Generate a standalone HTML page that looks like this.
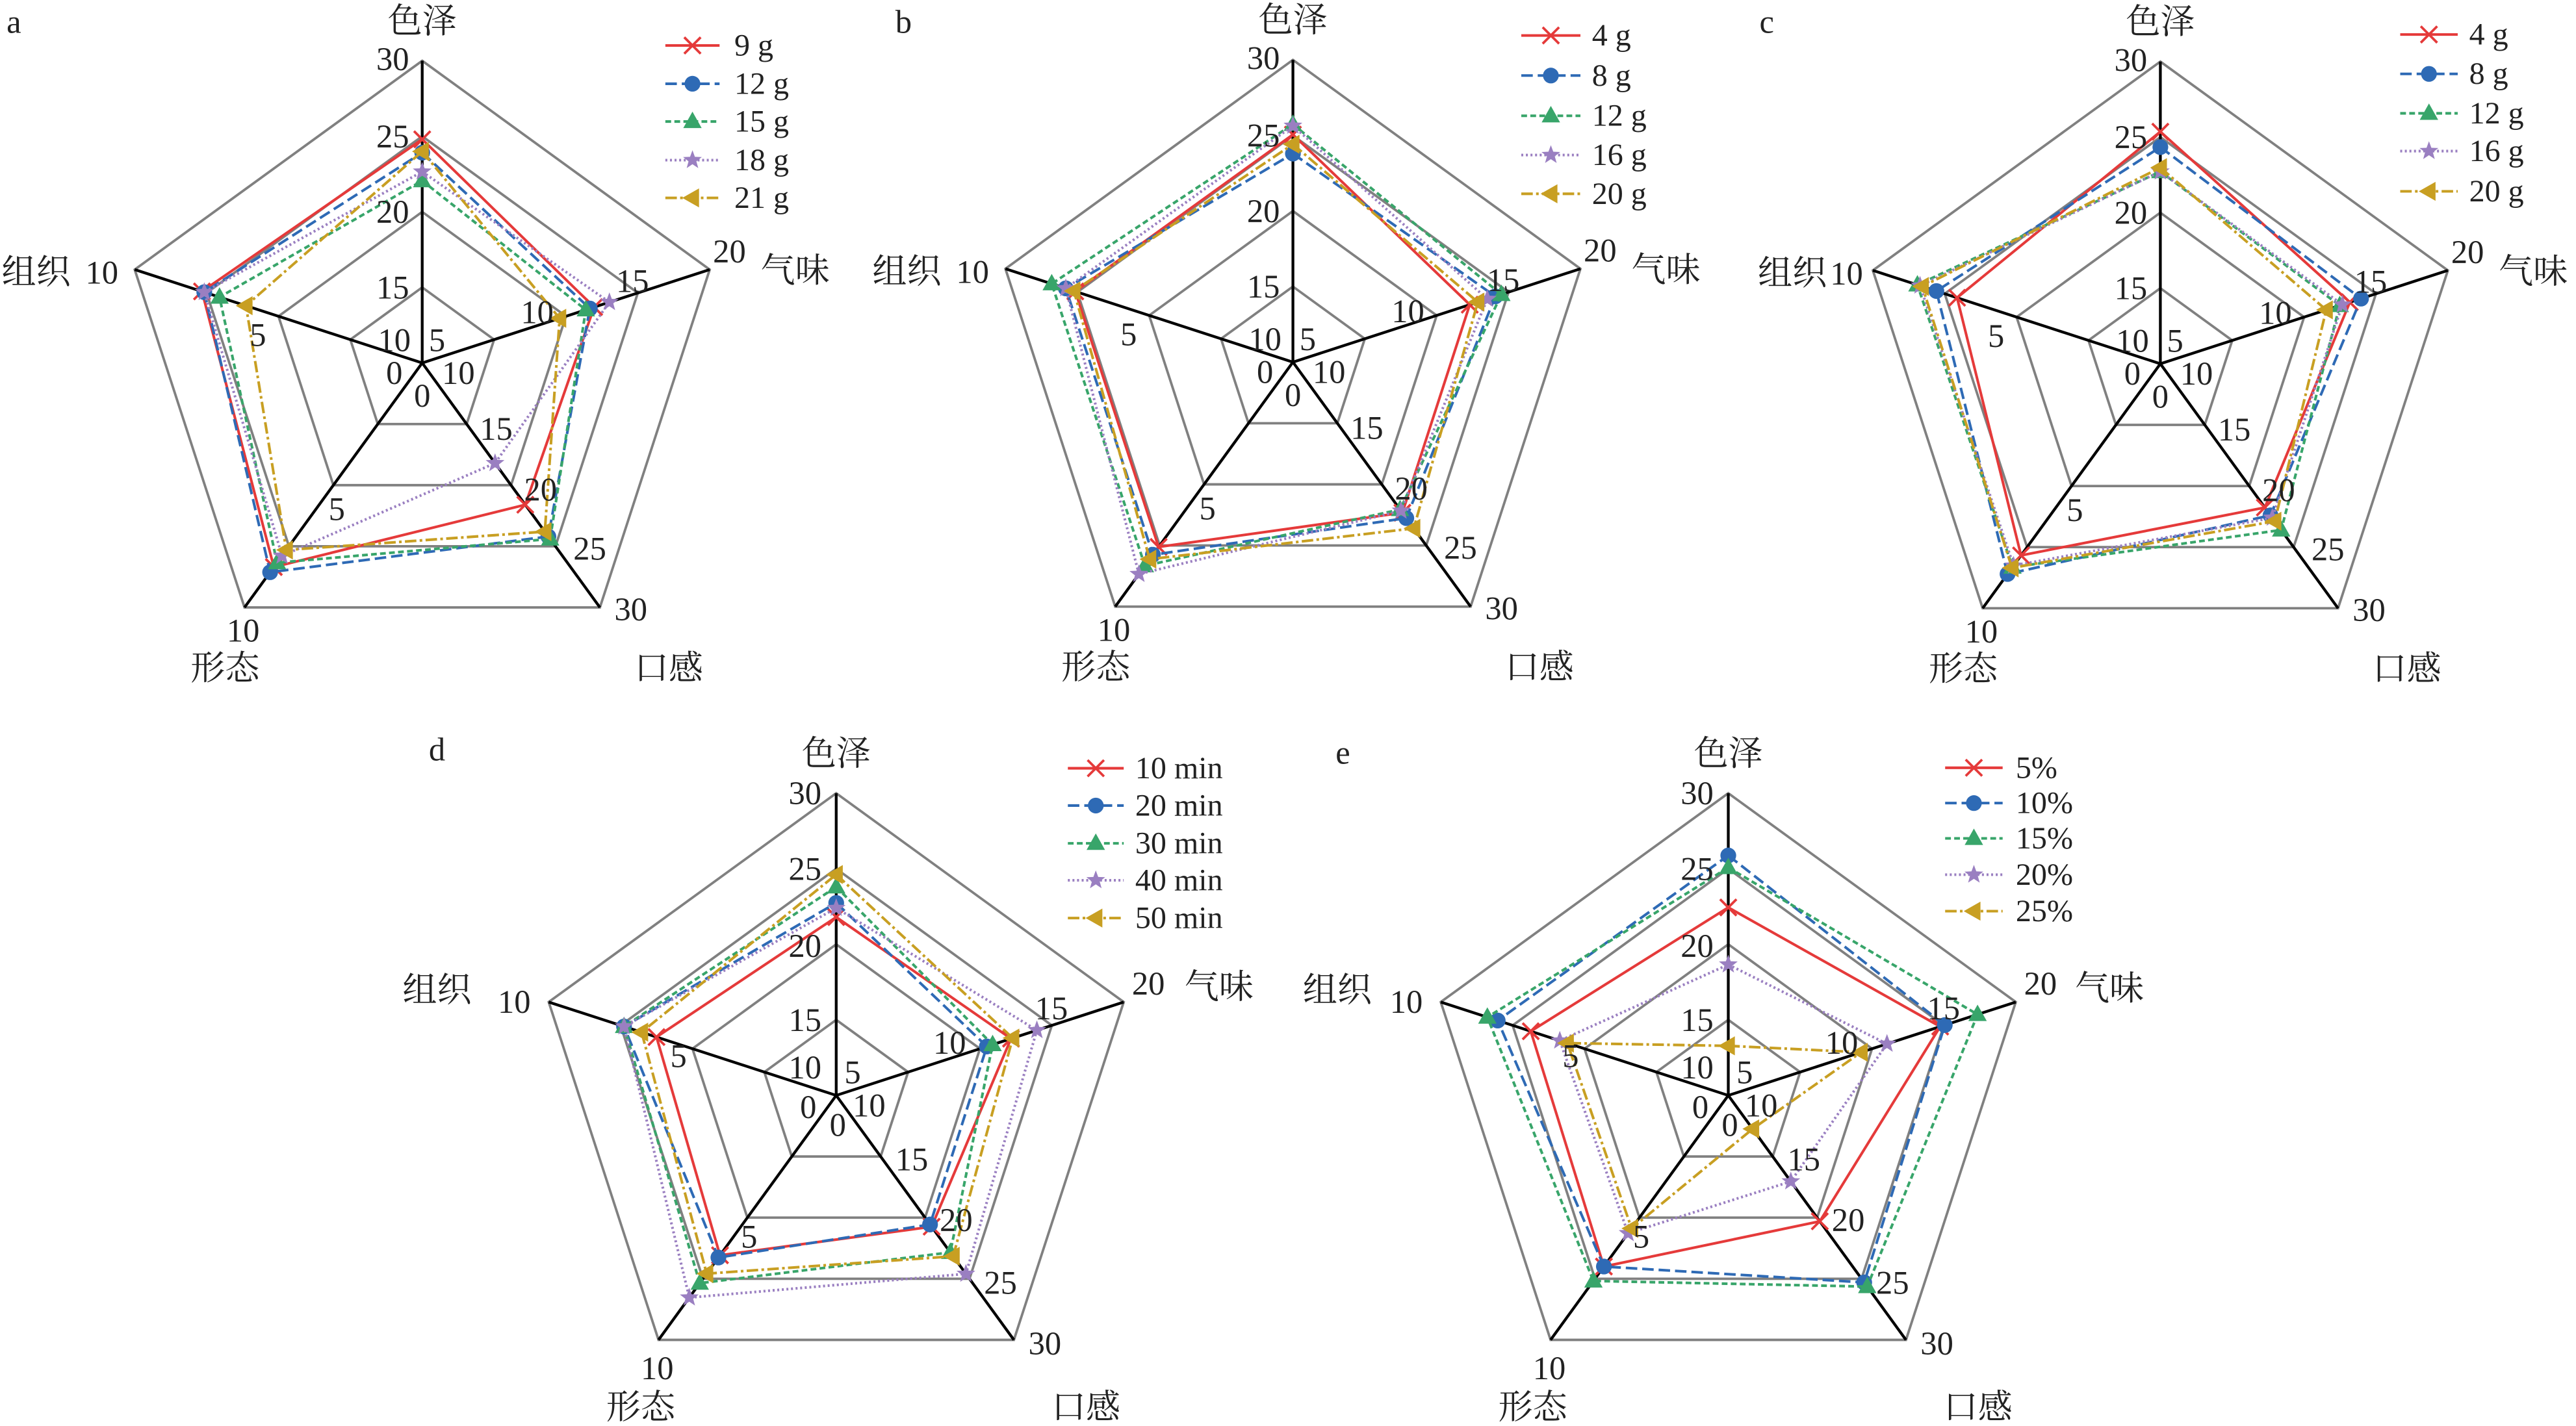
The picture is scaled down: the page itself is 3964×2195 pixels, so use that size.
<!DOCTYPE html>
<html><head><meta charset="utf-8">
<style>
html,body{margin:0;padding:0;background:#fff;}
svg{display:block;font-family:"Liberation Serif","Noto Serif CJK SC","Noto Sans CJK SC",serif;}
text{font-family:"Liberation Serif","Noto Serif CJK SC","Noto Sans CJK SC",serif;fill:#222;}
.n{font-size:20px;text-anchor:middle;dominant-baseline:central;}
.t{font-size:21px;text-anchor:middle;dominant-baseline:central;}
.lg{font-size:19px;dominant-baseline:central;}
.pl{font-size:20px;}
</style></head>
<body>
<svg id="s" width="3964" height="2195" viewBox="0 0 1568 868.3" preserveAspectRatio="none" xmlns="http://www.w3.org/2000/svg" font-family="Liberation Serif, Noto Serif CJK SC, serif">
<rect width="1568" height="868.3" fill="#fff"/>
<g id="shapes"></g>

<text class="pl" x="4" y="20">a</text>
<text class="pl" x="545" y="20">b</text>
<text class="pl" x="1071" y="20">c</text>
<text class="pl" x="261" y="463">d</text>
<text class="pl" x="813" y="465">e</text>

<g transform="translate(257,221)">
<text class="t" x="0" y="-208">色泽</text>
<text class="n" x="-18" y="-185">30</text><text class="n" x="-18" y="-138">25</text><text class="n" x="-18" y="-92">20</text><text class="n" x="-18" y="-46">15</text>
<text class="n" x="-17" y="-14">10</text><text class="n" x="9" y="-14">5</text><text class="n" x="-17" y="6">0</text><text class="n" x="0" y="20">0</text><text class="n" x="22" y="6">10</text>
<text class="n" x="45" y="40">15</text><text class="n" x="72" y="77">20</text><text class="n" x="102" y="113">25</text><text class="n" x="127" y="150">30</text>
<text class="n" x="-109" y="163">10</text><text class="t" x="-120" y="186">形态</text><text class="t" x="150" y="186">口感</text>
<text class="n" x="-52" y="89">5</text><text class="n" x="-100" y="-17">5</text>
<text class="t" x="-235" y="-55">组织</text><text class="n" x="-195" y="-55">10</text>
<text class="n" x="187" y="-68">20</text><text class="t" x="227" y="-56">气味</text>
<text class="n" x="128" y="-50">15</text><text class="n" x="70" y="-31">10</text>
</g>
<g transform="translate(787,220.5)">
<text class="t" x="0" y="-208">色泽</text>
<text class="n" x="-18" y="-185">30</text><text class="n" x="-18" y="-138">25</text><text class="n" x="-18" y="-92">20</text><text class="n" x="-18" y="-46">15</text>
<text class="n" x="-17" y="-14">10</text><text class="n" x="9" y="-14">5</text><text class="n" x="-17" y="6">0</text><text class="n" x="0" y="20">0</text><text class="n" x="22" y="6">10</text>
<text class="n" x="45" y="40">15</text><text class="n" x="72" y="77">20</text><text class="n" x="102" y="113">25</text><text class="n" x="127" y="150">30</text>
<text class="n" x="-109" y="163">10</text><text class="t" x="-120" y="186">形态</text><text class="t" x="150" y="186">口感</text>
<text class="n" x="-52" y="89">5</text><text class="n" x="-100" y="-17">5</text>
<text class="t" x="-235" y="-55">组织</text><text class="n" x="-195" y="-55">10</text>
<text class="n" x="187" y="-68">20</text><text class="t" x="227" y="-56">气味</text>
<text class="n" x="128" y="-50">15</text><text class="n" x="70" y="-31">10</text>
</g>
<g transform="translate(1315,221.5)">
<text class="t" x="0" y="-208">色泽</text>
<text class="n" x="-18" y="-185">30</text><text class="n" x="-18" y="-138">25</text><text class="n" x="-18" y="-92">20</text><text class="n" x="-18" y="-46">15</text>
<text class="n" x="-17" y="-14">10</text><text class="n" x="9" y="-14">5</text><text class="n" x="-17" y="6">0</text><text class="n" x="0" y="20">0</text><text class="n" x="22" y="6">10</text>
<text class="n" x="45" y="40">15</text><text class="n" x="72" y="77">20</text><text class="n" x="102" y="113">25</text><text class="n" x="127" y="150">30</text>
<text class="n" x="-109" y="163">10</text><text class="t" x="-120" y="186">形态</text><text class="t" x="150" y="186">口感</text>
<text class="n" x="-52" y="89">5</text><text class="n" x="-100" y="-17">5</text>
<text class="t" x="-224" y="-55">组织</text><text class="n" x="-191" y="-55">10</text>
<text class="n" x="187" y="-68">20</text><text class="t" x="227" y="-56">气味</text>
<text class="n" x="128" y="-50">15</text><text class="n" x="70" y="-31">10</text>
</g>
<g transform="translate(509,667)">
<text class="t" x="0" y="-208">色泽</text>
<text class="n" x="-19" y="-184">30</text><text class="n" x="-19" y="-138">25</text><text class="n" x="-19" y="-91">20</text><text class="n" x="-19" y="-46">15</text>
<text class="n" x="-19" y="-17">10</text><text class="n" x="10" y="-14">5</text><text class="n" x="-17" y="7">0</text><text class="n" x="1" y="18">0</text><text class="n" x="20" y="6">10</text>
<text class="n" x="46" y="39">15</text><text class="n" x="73" y="76">20</text><text class="n" x="100" y="114">25</text><text class="n" x="127" y="151">30</text>
<text class="n" x="-109" y="166">10</text><text class="t" x="-119" y="190">形态</text><text class="t" x="152" y="190">口感</text>
<text class="n" x="-53" y="86">5</text><text class="n" x="-96" y="-24">5</text>
<text class="t" x="-243" y="-64">组织</text><text class="n" x="-196" y="-57">10</text>
<text class="n" x="190" y="-68">20</text><text class="t" x="233" y="-66">气味</text>
<text class="n" x="131" y="-53">15</text><text class="n" x="69" y="-32">10</text>
</g>
<g transform="translate(1052,667)">
<text class="t" x="0" y="-208">色泽</text>
<text class="n" x="-19" y="-184">30</text><text class="n" x="-19" y="-138">25</text><text class="n" x="-19" y="-91">20</text><text class="n" x="-19" y="-46">15</text>
<text class="n" x="-19" y="-17">10</text><text class="n" x="10" y="-14">5</text><text class="n" x="-17" y="7">0</text><text class="n" x="1" y="18">0</text><text class="n" x="20" y="6">10</text>
<text class="n" x="46" y="39">15</text><text class="n" x="73" y="76">20</text><text class="n" x="100" y="114">25</text><text class="n" x="127" y="151">30</text>
<text class="n" x="-109" y="166">10</text><text class="t" x="-119" y="190">形态</text><text class="t" x="152" y="190">口感</text>
<text class="n" x="-53" y="86">5</text><text class="n" x="-96" y="-24">5</text>
<text class="t" x="-238" y="-64">组织</text><text class="n" x="-196" y="-57">10</text>
<text class="n" x="190" y="-68">20</text><text class="t" x="232" y="-65">气味</text>
<text class="n" x="131" y="-53">15</text><text class="n" x="69" y="-32">10</text>
</g>

<text class="lg" x="447" y="27.7">9 g</text><text class="lg" x="447" y="51">12 g</text><text class="lg" x="447" y="74">15 g</text><text class="lg" x="447" y="97.5">18 g</text><text class="lg" x="447" y="120.5">21 g</text>
<text class="lg" x="969" y="21.6">4 g</text><text class="lg" x="969" y="46">8 g</text><text class="lg" x="969" y="70.5">12 g</text><text class="lg" x="969" y="94.4">16 g</text><text class="lg" x="969" y="118">20 g</text>
<text class="lg" x="1503" y="21">4 g</text><text class="lg" x="1503" y="45">8 g</text><text class="lg" x="1503" y="69">12 g</text><text class="lg" x="1503" y="92">16 g</text><text class="lg" x="1503" y="116.5">20 g</text>
<text class="lg" x="691" y="467.8">10 min</text><text class="lg" x="691" y="490.5">20 min</text><text class="lg" x="691" y="513.5">30 min</text><text class="lg" x="691" y="536">40 min</text><text class="lg" x="691" y="559">50 min</text>
<text class="lg" x="1227" y="467.5">5%</text><text class="lg" x="1227" y="489">10%</text><text class="lg" x="1227" y="510.5">15%</text><text class="lg" x="1227" y="532.6">20%</text><text class="lg" x="1227" y="554.8">25%</text>
</svg>
<script>
(function(){
var NS="http://www.w3.org/2000/svg";
var G=document.getElementById("shapes");
function el(n,a){var e=document.createElementNS(NS,n);for(var k in a)e.setAttribute(k,a[k]);G.appendChild(e);return e;}
var U=[[0,-1],[0.9511,-0.309],[0.5878,0.809],[-0.5878,0.809],[-0.9511,-0.309]];
var R=184;
var COL=["#e53a3a","#2e6ab5","#38a56a","#9a7fc1","#c89f22"];
var DASH=["none","7,3","3.5,2","1.2,1.6","7,2,1.6,2"];
function marker(i,x,y){
  var c=COL[i];
  if(i==0){el("path",{d:"M"+(x-5)+","+(y-5)+"L"+(x+5)+","+(y+5)+"M"+(x-5)+","+(y+5)+"L"+(x+5)+","+(y-5),stroke:c,"stroke-width":1.5,fill:"none"});}
  else if(i==1){el("circle",{cx:x,cy:y,r:4.8,fill:c});}
  else if(i==2){el("polygon",{points:x+","+(y-6)+" "+(x+5.6)+","+(y+4)+" "+(x-5.6)+","+(y+4),fill:c});}
  else if(i==3){var p=[];for(var k=0;k<10;k++){var r=k%2?2.5:6;var a=-Math.PI/2+k*Math.PI/5;p.push((x+r*Math.cos(a)).toFixed(2)+","+(y+r*Math.sin(a)).toFixed(2));}el("polygon",{points:p.join(" "),fill:c});}
  else {el("polygon",{points:(x-6.2)+","+y+" "+(x+4)+","+(y-5.8)+" "+(x+4)+","+(y+5.8),fill:c});}
}
var charts=[
 {c:[257,221],d:[[.74,.598,.58,.835,.766],[.696,.583,.71,.856,.758],[.603,.569,.72,.817,.705],[.633,.651,.41,.789,.758],[.70,.478,.69,.765,.613]],
  L:{x1:405,x2:438,ys:[27.7,51,74,97.5,120.5]}},
 {c:[787,220.5],d:[[.753,.615,.616,.756,.757],[.69,.704,.638,.788,.79],[.787,.725,.603,.833,.839],[.782,.676,.608,.867,.79],[.721,.643,.68,.806,.762]],
  L:{x1:926,x2:962,ys:[21.6,46,70.5,94.4,118]}},
 {c:[1315,221.5],d:[[.768,.659,.588,.784,.707],[.717,.698,.62,.86,.779],[.636,.624,.68,.832,.845],[.636,.633,.63,.826,.836],[.649,.577,.644,.835,.828]],
  L:{x1:1461,x2:1496,ys:[21,45,69,92,116.5]}},
 {c:[509,667],d:[[.59,.608,.537,.654,.625],[.637,.524,.528,.663,.738],[.69,.544,.642,.768,.738],[.62,.698,.73,.827,.738],[.731,.614,.658,.729,.677]],
  L:{x1:650,x2:684,ys:[467.8,490.5,513.5,536,559]}},
 {c:[1052,667],d:[[.622,.737,.515,.70,.687],[.794,.753,.765,.70,.802],[.754,.867,.782,.759,.838],[.433,.552,.352,.564,.586],[.164,.462,.137,.544,.56]],
  L:{x1:1184,x2:1219,ys:[467.5,489,510.5,532.6,554.8]}}
];
charts.forEach(function(ch){
  var cx=ch.c[0],cy=ch.c[1];
  [0.25,0.5,0.75,1].forEach(function(f){
    var p=U.map(function(u){return (cx+u[0]*R*f).toFixed(2)+","+(cy+u[1]*R*f).toFixed(2);});
    el("polygon",{points:p.join(" "),fill:"none",stroke:"#808080","stroke-width":1.5});
  });
  U.forEach(function(u){el("line",{x1:cx,y1:cy,x2:cx+u[0]*R,y2:cy+u[1]*R,stroke:"#000","stroke-width":1.7});});
  ch.d.forEach(function(s,i){
    var pts=s.map(function(f,k){return [cx+U[k][0]*R*f,cy+U[k][1]*R*f];});
    var a={points:pts.map(function(p){return p[0].toFixed(2)+","+p[1].toFixed(2);}).join(" "),fill:"none",stroke:COL[i],"stroke-width":1.6};
    if(DASH[i]!="none")a["stroke-dasharray"]=DASH[i];
    el("polygon",a);
    pts.forEach(function(p){marker(i,p[0],p[1]);});
  });
  var L=ch.L;
  L.ys.forEach(function(y,i){
    var a={x1:L.x1,y1:y,x2:L.x2,y2:y,stroke:COL[i],"stroke-width":1.6};
    if(DASH[i]!="none")a["stroke-dasharray"]=DASH[i];
    el("line",a);
    marker(i,(L.x1+L.x2)/2,y);
  });
});
})();
</script>
</body></html>
